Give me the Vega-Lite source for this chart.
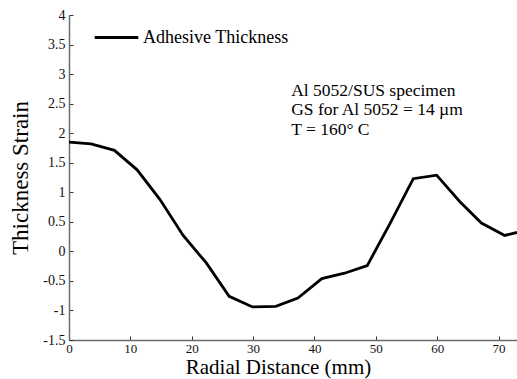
{
  "$schema": "https://vega.github.io/schema/vega-lite/v6.json",
  "width": 448,
  "height": 325,
  "autosize": "none",
  "padding": {"left": 69, "top": 15, "right": 0, "bottom": 39},
  "background": "white",
  "config": {
    "view": {"stroke": null},
    "font": "Liberation Serif",
    "axis": {"grid": false, "domainColor": "#6b6b6b", "domainWidth": 1.5, "tickColor": "#333", "tickWidth": 1, "labelColor": "#111", "titleColor": "#000", "labelFont": "Liberation Serif", "titleFont": "Liberation Serif", "titleFontWeight": "normal", "labelFontSize": 14, "labelOverlap": false, "labelBound": false, "labelFlush": false}
  },
  "datasets": {
    "line": [
      {"x": 0, "y": 1.85, "series": "Adhesive Thickness"},
      {"x": 3.6, "y": 1.82, "series": "Adhesive Thickness"},
      {"x": 7.4, "y": 1.71, "series": "Adhesive Thickness"},
      {"x": 11.1, "y": 1.38, "series": "Adhesive Thickness"},
      {"x": 14.8, "y": 0.88, "series": "Adhesive Thickness"},
      {"x": 18.6, "y": 0.27, "series": "Adhesive Thickness"},
      {"x": 22.4, "y": -0.2, "series": "Adhesive Thickness"},
      {"x": 26.1, "y": -0.76, "series": "Adhesive Thickness"},
      {"x": 29.9, "y": -0.94, "series": "Adhesive Thickness"},
      {"x": 33.7, "y": -0.93, "series": "Adhesive Thickness"},
      {"x": 37.3, "y": -0.79, "series": "Adhesive Thickness"},
      {"x": 41.2, "y": -0.46, "series": "Adhesive Thickness"},
      {"x": 44.9, "y": -0.37, "series": "Adhesive Thickness"},
      {"x": 48.6, "y": -0.24, "series": "Adhesive Thickness"},
      {"x": 52.3, "y": 0.47, "series": "Adhesive Thickness"},
      {"x": 56.1, "y": 1.23, "series": "Adhesive Thickness"},
      {"x": 59.9, "y": 1.29, "series": "Adhesive Thickness"},
      {"x": 63.7, "y": 0.84, "series": "Adhesive Thickness"},
      {"x": 67.2, "y": 0.48, "series": "Adhesive Thickness"},
      {"x": 71.0, "y": 0.27, "series": "Adhesive Thickness"},
      {"x": 73.0, "y": 0.32, "series": "Adhesive Thickness"}
    ],
    "notes": [
      {"x": 36.2, "y": 2.71, "label": "Al 5052/SUS specimen"},
      {"x": 36.2, "y": 2.39, "label": "GS for Al 5052 = 14 µm"},
      {"x": 36.2, "y": 2.05, "label": "T = 160° C"}
    ]
  },
  "layer": [
    {
      "data": {"name": "line"},
      "mark": {"type": "line", "strokeWidth": 2.8, "clip": true},
      "encoding": {
        "x": {"field": "x", "type": "quantitative", "scale": {"domain": [0, 73], "nice": false, "zero": false},
              "axis": {"title": "Radial Distance (mm)", "values": [0, 10, 20, 30, 40, 50, 60, 70], "tickCount": 20, "labelOverlap": false, "tickSize": -4, "labelPadding": 6, "labelFontSize": 13, "titleFontSize": 21, "titlePadding": 1, "titleX": 209, "titleAlign": "center"}},
        "y": {"field": "y", "type": "quantitative", "scale": {"domain": [-1.5, 4], "nice": false, "zero": false},
              "axis": {"title": "Thickness Strain", "values": [-1.5, -1, -0.5, 0, 0.5, 1, 1.5, 2, 2.5, 3, 3.5, 4], "tickCount": 30, "format": "~g", "labelOverlap": false, "labelExpr": "replace(datum.label, '\u2212', '-')", "tickSize": -4, "labelPadding": 8, "titleFontSize": 23, "titlePadding": 10}},
        "color": {"field": "series", "type": "nominal", "scale": {"range": ["#000000"]},
                  "legend": {"title": null, "orient": "none", "legendX": 24, "legendY": -1, "symbolType": "stroke", "symbolSize": 1900, "symbolStrokeWidth": 2.8, "labelFont": "Liberation Serif", "labelFontSize": 18, "labelColor": "#000", "labelOffset": 3}}
      }
    },
    {
      "data": {"name": "notes"},
      "mark": {"type": "text", "align": "left", "baseline": "middle", "fontSize": 17.5, "font": "Liberation Serif", "color": "#000"},
      "encoding": {
        "x": {"field": "x", "type": "quantitative"},
        "y": {"field": "y", "type": "quantitative"},
        "text": {"field": "label"}
      }
    }
  ]
}
